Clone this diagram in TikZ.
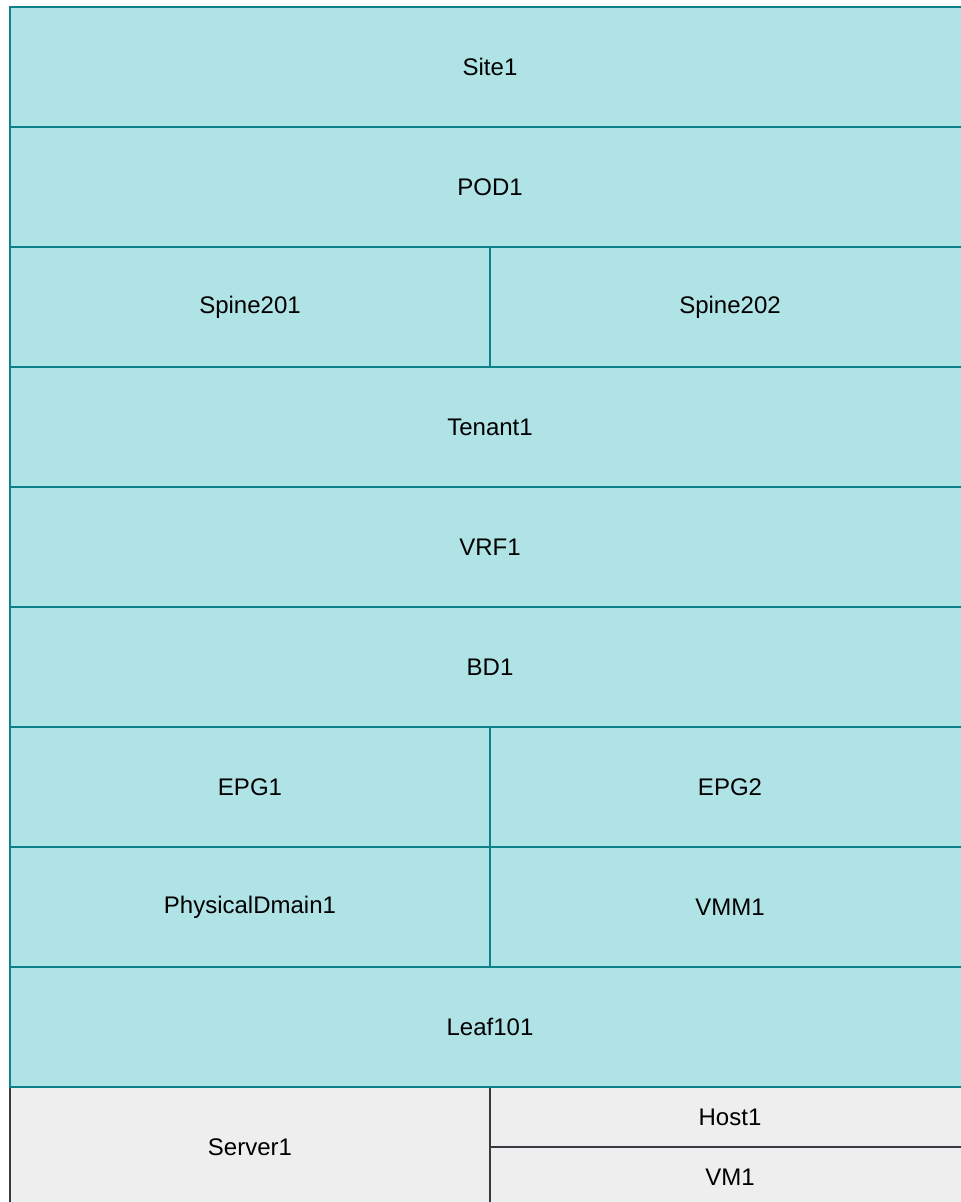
\documentclass[tikz,border=0pt]{standalone}
\usepackage{fontspec}
\setmainfont{Liberation Sans}
\begin{document}
\begin{tikzpicture}[x=0.5pt,y=-0.5pt,
  base/.style={draw, line width=1pt, inner sep=0pt, anchor=north west,
    font=\fontsize{12}{14}\selectfont},
  teal/.style={base, fill=tealfill, draw=tealline},
  gray/.style={base, fill=grayfill, draw=grayline},
  full/.style={minimum width=480pt, minimum height=60pt},
  half/.style={minimum width=240pt, minimum height=60pt},
  quarter/.style={minimum width=240pt, minimum height=30pt}]
\definecolor{tealfill}{HTML}{B0E3E6}
\definecolor{tealline}{HTML}{0E8088}
\definecolor{grayfill}{HTML}{EEEEEE}
\definecolor{grayline}{HTML}{36393D}
\useasboundingbox (0,0) rectangle (961,1202);
\clip (0,0) rectangle (961,1202);
\node[gray, minimum width=240pt, minimum height=60pt] (server1) at (9,1086) {Server1};
\node[gray, quarter] (host1) at (489,1086) {Host1};
\node[gray, quarter] (vm1) at (489,1146) {VM1};
\node[teal, full] (site1) at (9,6) {Site1};
\node[teal, full] (pod1) at (9,126) {POD1};
\node[teal, half] (spine201) at (9,246) {Spine201};
\node[teal, half] (spine202) at (489,246) {Spine202};
\node[teal, full] (tenant1) at (9,366) {Tenant1};
\node[teal, full] (vrf1) at (9,486) {VRF1};
\node[teal, full] (bd1) at (9,606) {BD1};
\node[teal, half] (epg1) at (9,726) {EPG1};
\node[teal, half] (epg2) at (489,726) {EPG2};
\node[teal, half] (phys1) at (9,846) {PhysicalDmain1};
\node[teal, half] (vmm1) at (489,846) {VMM1};
\node[teal, full] (leaf101) at (9,966) {Leaf101};
\end{tikzpicture}
\end{document}
